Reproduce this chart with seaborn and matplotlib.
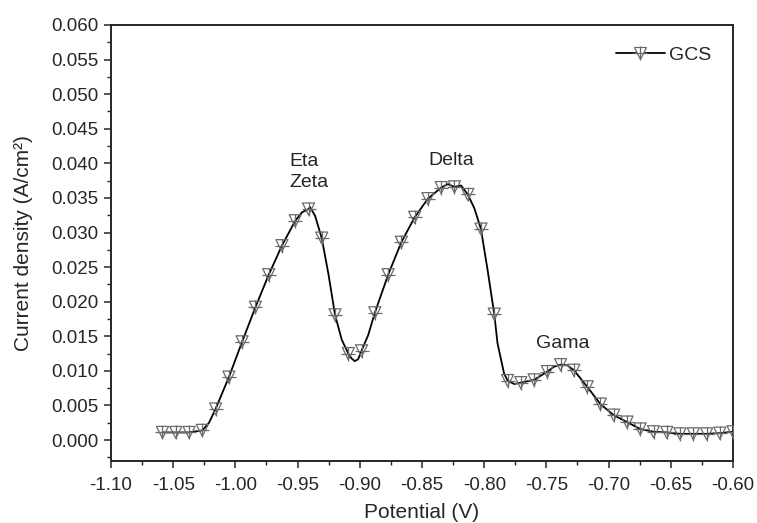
"""
Current density vs potential curve for GCS sample (stripping peaks)
"""
import numpy as np
import pandas as pd
import matplotlib
matplotlib.use('Agg')
import matplotlib.pyplot as plt
from matplotlib.lines import Line2D
from matplotlib.legend_handler import HandlerTuple
from matplotlib.ticker import MultipleLocator
import seaborn as sns

# Set style
sns.set_style('ticks')
plt.rcParams['font.family'] = ['Liberation Sans', 'DejaVu Sans']

# Marker points
potential = [-1.0586, -1.0479, -1.0372, -1.0266, -1.0159, -1.0052, -0.9946, -0.9839,
             -0.9732, -0.9626, -0.9519, -0.9412, -0.9306, -0.9199, -0.9092, -0.8986,
             -0.8879, -0.8772, -0.8666, -0.8559, -0.8452, -0.8346, -0.8239, -0.8132,
             -0.8026, -0.7919, -0.7812, -0.7706, -0.7599, -0.7492, -0.7386, -0.7279,
             -0.7172, -0.7066, -0.6959, -0.6852, -0.6746, -0.6639, -0.6532, -0.6426,
             -0.6319, -0.6212, -0.6106, -0.6000]
current = [0.0011, 0.0011, 0.0011, 0.0014, 0.0045, 0.0091, 0.0142, 0.0192,
           0.0239, 0.0281, 0.0317, 0.0334, 0.0292, 0.0181, 0.0125, 0.0129,
           0.0184, 0.0239, 0.0286, 0.0322, 0.0349, 0.0365, 0.0366, 0.0355,
           0.0305, 0.0182, 0.0086, 0.0083, 0.0087, 0.0099, 0.0109, 0.0101,
           0.0077, 0.0052, 0.0036, 0.0026, 0.0016, 0.0012, 0.0011, 0.0009,
           0.0009, 0.0009, 0.0010, 0.0012]

# Extra points on the smooth line between markers (peaks and dips)
line_potential = [-1.0212, -0.9466, -0.9400, -0.9359, -0.9252, -0.9145, -0.9066,
                  -0.9040, -0.9013, -0.8932, -0.8292, -0.8186, -0.8079, -0.7972,
                  -0.7893, -0.7840, -0.7759, -0.7439, -0.7332]
line_current = [0.0025, 0.0329, 0.0337, 0.0324, 0.0240, 0.0145, 0.0118,
                0.0114, 0.0117, 0.0152, 0.0370, 0.0368, 0.0335, 0.0245,
                0.0140, 0.0096, 0.0081, 0.0106, 0.0108]

peak_labels = ['Eta\nZeta', 'Delta', 'Gama']
peak_x = [-0.957, -0.8445, -0.7585]
peak_y = [0.0388, 0.0404, 0.0140]

markers_df = pd.DataFrame({'Potential': potential, 'Current': current})
line_df = pd.DataFrame({'Potential': potential + line_potential,
                        'Current': current + line_current}).sort_values('Potential')

fig = plt.figure(figsize=(7.57, 5.23), dpi=100)
ax = fig.add_axes([0.1466, 0.1176, 0.8217, 0.8346])

sns.lineplot(data=line_df, x='Potential', y='Current', color='black', lw=1.3,
             sort=True, ax=ax, zorder=2)
mk_color = '#6a6a6a'
sns.scatterplot(data=markers_df, x='Potential', y='Current', marker='v', s=75,
                facecolors='none', edgecolor=mk_color, linewidth=0.9, ax=ax, zorder=3)
sns.scatterplot(data=markers_df, x='Potential', y='Current', marker='+', s=95,
                color=mk_color, linewidth=0.9, ax=ax, zorder=3)

for lab, px, py in zip(peak_labels, peak_x, peak_y):
    ax.text(px, py, lab, fontsize=14, ha='left', va='center', linespacing=1.3)

ax.xaxis.set_major_locator(MultipleLocator(0.05))
ax.xaxis.set_minor_locator(MultipleLocator(0.025))
ax.yaxis.set_major_locator(MultipleLocator(0.005))
ax.yaxis.set_minor_locator(MultipleLocator(0.0025))
ax.set_xlim(-1.10, -0.60)
ax.set_ylim(-0.0031, 0.060)
ax.set_xticks(ax.get_xticks())
ax.set_xticklabels([f'{v:.2f}' for v in ax.get_xticks()])
ax.set_yticks(ax.get_yticks())
ax.set_yticklabels([f'{v:.3f}' for v in ax.get_yticks()])
ax.set_xlim(-1.10, -0.60)
ax.set_ylim(-0.0031, 0.060)
ax.tick_params(which='major', direction='out', length=5, width=1.1, labelsize=13.5,
               top=False, right=False, pad=4)
ax.tick_params(axis='x', which='major', pad=6)
ax.tick_params(which='minor', direction='out', length=3, width=1.0, top=False, right=False)
for s in ax.spines.values():
    s.set_linewidth(1.4)
    s.set_visible(True)

ax.set_xlabel('Potential (V)', fontsize=15)
ax.set_ylabel('Current density (A/cm²)', fontsize=15)
ax.xaxis.labelpad = 7
ax.yaxis.labelpad = 13

# Legend: line with combined triangle/plus marker
h_line = Line2D([], [], color='black', lw=1.3, marker='v', markersize=8.5,
                markerfacecolor='white', markeredgecolor=mk_color, markeredgewidth=0.9)
h_plus = Line2D([], [], color='none', marker='+', markersize=9.5,
                markeredgecolor=mk_color, markeredgewidth=0.9)
ax.legend([(h_line, h_plus)], ['GCS'], handler_map={tuple: HandlerTuple(ndivide=1)},
          loc='upper right', frameon=False, fontsize=14, handlelength=2.5,
          handletextpad=0.25, borderaxespad=0.7, numpoints=1)

plt.savefig('out.png', dpi=100)
